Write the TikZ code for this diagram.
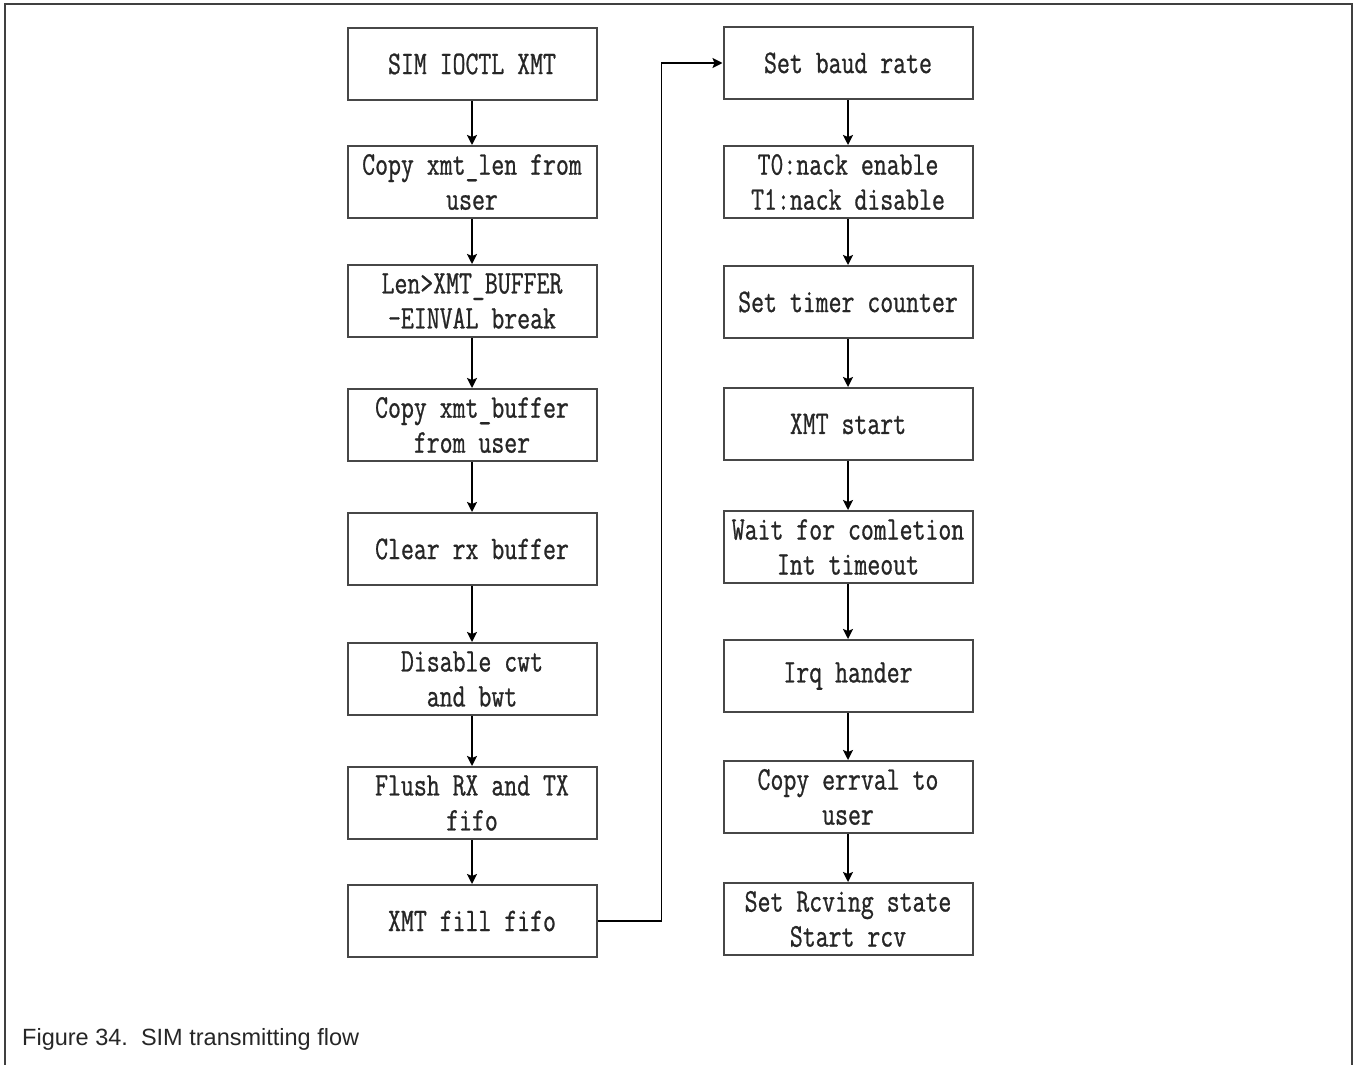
\documentclass[tikz,border=0pt]{standalone}
\usepackage{fontspec}
\usepackage{xcolor}
\usepackage{tikz}
\usetikzlibrary{arrows.meta, positioning}
\newfontfamily\flowfont[FakeStretch=0.76, FakeBold=0.8]{Latin Modern Mono}
\newfontfamily\capfont{Liberation Sans}

\begin{document}
\begin{tikzpicture}[
  x=1pt, y=1pt,
  block/.style={rectangle, draw=black!72, line width=2pt, minimum width=249pt, minimum height=72pt,
    inner sep=2pt, align=center, text=black!85, font=\flowfont\fontsize{33}{35}\selectfont},
  arrow/.style={->, line width=1.9pt, >={Stealth[length=10pt,width=10pt,inset=2pt]}},
  frame/.style={draw=black!75, line width=2.4pt},
  captext/.style={anchor=base west, inner sep=0pt, text=black!85, font=\capfont\fontsize{23.5}{28}\selectfont}
]
\useasboundingbox (0,0) rectangle (1354,-1065);
\draw[frame] (5,-1065) -- (5,-4) -- (1352,-4) -- (1352,-1065);

% ── left column ─────────────────────────────────────────────
\node[block] (ioctl) at (472,-64) {SIM IOCTL XMT};
\node[block, below=44pt of ioctl]  (cplen)  {Copy xmt\_len from\\user};
\node[block, below=45pt of cplen]  (lenchk) {Len>XMT\_BUFFER\\-EINVAL break};
\node[block, below=50pt of lenchk] (cpbuf)  {Copy xmt\_buffer\\from user};
\node[block, below=50pt of cpbuf]  (clrrx)  {Clear rx buffer};
\node[block, below=56pt of clrrx]  (discwt) {Disable cwt\\and bwt};
\node[block, below=50pt of discwt] (flush)  {Flush RX and TX\\fifo};
\node[block, below=44pt of flush]  (fill)   {XMT fill fifo};

% ── right column ────────────────────────────────────────────
\node[block] (baud) at (848,-63) {Set baud rate};
\node[block, below=45pt of baud]   (nack)   {T0:nack enable\\T1:nack disable};
\node[block, below=46pt of nack]   (timer)  {Set timer counter};
\node[block, below=48pt of timer]  (xstart) {XMT start};
\node[block, below=49pt of xstart] (wait)   {Wait for comletion\\Int timeout};
\node[block, below=55pt of wait]   (irq)    {Irq hander};
\node[block, below=47pt of irq]    (cperr)  {Copy errval to\\user};
\node[block, below=48pt of cperr]  (rcv)    {Set Rcving state\\Start rcv};

% ── arrows ──────────────────────────────────────────────────
\draw[arrow] (ioctl)  -- (cplen);
\draw[arrow] (cplen)  -- (lenchk);
\draw[arrow] (lenchk) -- (cpbuf);
\draw[arrow] (cpbuf)  -- (clrrx);
\draw[arrow] (clrrx)  -- (discwt);
\draw[arrow] (discwt) -- (flush);
\draw[arrow] (flush)  -- (fill);
\draw[arrow] (fill.east) -- ++(64,0) |- (baud.west);
\draw[arrow] (baud)   -- (nack);
\draw[arrow] (nack)   -- (timer);
\draw[arrow] (timer)  -- (xstart);
\draw[arrow] (xstart) -- (wait);
\draw[arrow] (wait)   -- (irq);
\draw[arrow] (irq)    -- (cperr);
\draw[arrow] (cperr)  -- (rcv);

% ── caption ─────────────────────────────────────────────────
\node[captext] (caption) at (22,-1045) {Figure 34.\ \ SIM transmitting flow};
\end{tikzpicture}
\end{document}
